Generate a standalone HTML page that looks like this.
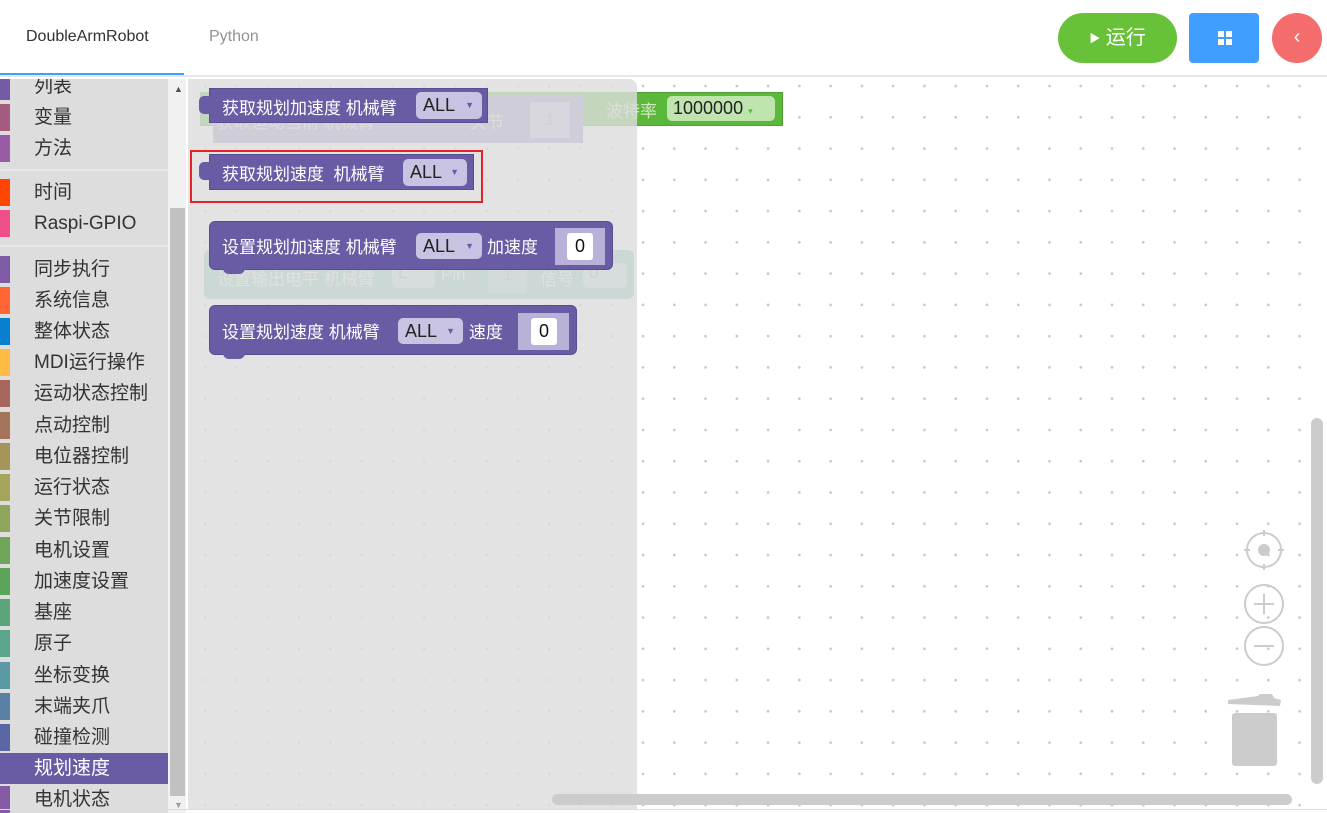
<!DOCTYPE html>
<html><head><meta charset="utf-8"><style>
*{margin:0;padding:0;box-sizing:border-box}
body{width:1327px;height:813px;overflow:hidden;background:#fff;font-family:"Liberation Sans","Noto Sans CJK SC",sans-serif;position:relative}
.a{position:absolute}
.hdr{left:0;top:0;width:1327px;height:77px;background:#fff;border-bottom:2px solid #e4e7ed}
.ws{left:188px;top:79px;width:1139px;height:731px;background-color:#fff;background-image:radial-gradient(circle,#c8c8c8 1.1px,transparent 1.6px);background-size:31.28px 31.28px;background-position:-29.6px -8.6px}
.side{left:0;top:79px;width:168px;height:734px;background:#ddd;overflow:hidden}
.it{position:absolute;left:0;width:168px;height:31px;font-size:19px;color:#333;line-height:31px}
.it i{position:absolute;left:0;top:2px;width:10px;height:27px}
.it span{position:absolute;left:34px}
.sep{position:absolute;left:0;width:168px;height:2px;background:#e8e8e8}
.blk{position:absolute;background:#6a5ba5;color:#fff;font-size:17px;border:1px solid #5a4d92}
.t{position:absolute;white-space:nowrap}
.dd{position:absolute;background:#c8c3e2;border-radius:5px;color:#222;font-size:18px;line-height:27px;padding-left:7px}
.dd b{position:absolute;right:8px;top:0;font-size:9px;color:#6a5ba5;font-weight:normal}
.sock{position:absolute;background:#b8b2d8}
.wb{position:absolute;background:#fff;border-radius:3px;color:#111;font-size:18px;text-align:center;line-height:26px}
</style></head><body>
<div class="a hdr"></div>
<div class="a" style="left:26px;top:28px;font-size:16px;color:#303133">DoubleArmRobot</div>
<div class="a" style="left:209px;top:28px;font-size:16px;color:#909399">Python</div>
<div class="a" style="left:0;top:73px;width:184px;height:2px;background:#409eff"></div>
<div class="a" style="left:1058px;top:13px;width:119px;height:50px;border-radius:25px;background:#67c23a;color:#fff;font-size:20px;line-height:50px;text-align:center"><span style="font-size:11px;vertical-align:2px">▶</span> 运行</div>
<div class="a" style="left:1189px;top:13px;width:70px;height:50px;border-radius:4px;background:#409eff"></div>
<div class="a" style="left:1218px;top:31px;width:6px;height:6px;background:#fff;box-shadow:8px 0 #fff,0 8px #fff,8px 8px #fff"></div>
<div class="a" style="left:1272px;top:13px;width:50px;height:50px;border-radius:25px;background:#f56c6c;color:#fff;font-size:20px;line-height:48px;text-align:center">‹</div>

<div class="a ws"></div>
<!-- workspace blocks -->
<div class="a" style="left:200px;top:92px;width:583px;height:34px;background:#5cb83a;border:1px solid #4ea030"></div>
<div class="a" style="left:606px;top:97px;font-size:17px;color:#cfe9c2">波特率</div>
<div class="a" style="left:667px;top:96px;width:108px;height:25px;background:#bfe4ae;border-radius:5px;font-size:18px;color:#222;line-height:25px;padding-left:6px">1000000 <span style="font-size:9px;color:#5cb83a">▾</span></div>
<div class="a" style="left:213px;top:95px;width:370px;height:48px;background:#9187c0"></div>
<div class="a" style="left:217px;top:108px;font-size:17px;color:#ddd">获取运动当前 机械臂</div>
<div class="a" style="left:470px;top:108px;font-size:17px;color:#ddd">关节</div>
<div class="a" style="left:530px;top:102px;width:40px;height:36px;background:#c0bbdb;color:#999;text-align:center;line-height:36px;font-size:17px">1</div>
<div class="a" style="left:204px;top:250px;width:430px;height:49px;background:#7fbfb5;border-radius:6px"></div>
<div class="a" style="left:217px;top:265px;font-size:17px;color:#eee">设置输出电平 机械臂</div>
<div class="a" style="left:392px;top:263px;width:43px;height:25px;background:#b5dcd5;border-radius:5px;color:#888;padding-left:6px;font-size:17px">L</div>
<div class="a" style="left:441px;top:265px;font-size:17px;color:#eee">Pin</div>
<div class="a" style="left:488px;top:256px;width:39px;height:37px;background:#a8d3cc;color:#999;text-align:center;line-height:37px;font-size:17px">1</div>
<div class="a" style="left:540px;top:265px;font-size:17px;color:#eee">信号</div>
<div class="a" style="left:583px;top:263px;width:44px;height:25px;background:#b5dcd5;border-radius:5px;color:#888;padding-left:6px;font-size:17px">0</div>

<div class="a" style="left:188px;top:79px;width:449px;height:731px;background:rgba(221,221,221,0.82);border-top-right-radius:8px"></div>

<!-- flyout blocks -->
<div class="blk" style="left:209px;top:88px;width:279px;height:35px">
<div class="t" style="left:12px;top:5px">获取规划加速度 机械臂</div>
<div class="dd" style="left:206px;top:3px;width:66px;height:27px">ALL<b>▼</b></div></div>
<div class="a" style="left:199px;top:96px;width:12px;height:18px;background:#6a5ba5;border-radius:5px 0 0 5px"></div>

<div class="a" style="left:190px;top:150px;width:293px;height:53px;border:2px solid #e0242a"></div>
<div class="blk" style="left:209px;top:154px;width:265px;height:36px">
<div class="t" style="left:12px;top:5px">获取规划速度&nbsp; 机械臂</div>
<div class="dd" style="left:193px;top:4px;width:64px;height:27px">ALL<b>▼</b></div></div>
<div class="a" style="left:199px;top:162px;width:12px;height:18px;background:#6a5ba5;border-radius:5px 0 0 5px"></div>

<div class="blk" style="left:209px;top:221px;width:404px;height:49px;border-radius:6px">
<div class="t" style="left:12px;top:11px">设置规划加速度 机械臂</div>
<div class="dd" style="left:206px;top:11px;width:66px;height:26px">ALL<b>▼</b></div>
<div class="t" style="left:277px;top:11px">加速度</div>
<div class="sock" style="left:345px;top:6px;width:50px;height:37px"></div>
<div class="wb" style="left:357px;top:11px;width:26px;height:27px">0</div></div>
<div class="a" style="left:223px;top:266px;width:22px;height:8px;background:#6a5ba5;border-radius:0 0 6px 6px"></div>

<div class="blk" style="left:209px;top:305px;width:368px;height:50px;border-radius:6px">
<div class="t" style="left:12px;top:12px">设置规划速度 机械臂</div>
<div class="dd" style="left:188px;top:12px;width:65px;height:26px">ALL<b>▼</b></div>
<div class="t" style="left:259px;top:12px">速度</div>
<div class="sock" style="left:308px;top:7px;width:51px;height:37px"></div>
<div class="wb" style="left:321px;top:12px;width:26px;height:27px">0</div></div>
<div class="a" style="left:223px;top:351px;width:22px;height:8px;background:#6a5ba5;border-radius:0 0 6px 6px"></div>

<!-- sidebar -->
<div class="a side">
<div class="it" style="top:-8px"><i style="background:#745ba5"></i><span>列表</span></div>
<div class="it" style="top:23px"><i style="background:#a55b80"></i><span>变量</span></div>
<div class="it" style="top:54px"><i style="background:#995ba5"></i><span>方法</span></div>
<div class="sep" style="top:90px"></div>
<div class="it" style="top:98px"><i style="background:#ff4500"></i><span>时间</span></div>
<div class="it" style="top:129px"><i style="background:#f0508a"></i><span>Raspi-GPIO</span></div>
<div class="sep" style="top:166px"></div>
<div class="it" style="top:175px"><i style="background:#7f5ba5"></i><span>同步执行</span></div>
<div class="it" style="top:206px"><i style="background:#ff6633"></i><span>系统信息</span></div>
<div class="it" style="top:237px"><i style="background:#0a7fd0"></i><span>整体状态</span></div>
<div class="it" style="top:268px"><i style="background:#ffbb44"></i><span>MDI运行操作</span></div>
<div class="it" style="top:299px"><i style="background:#a5675b"></i><span>运动状态控制</span></div>
<div class="it" style="top:331px"><i style="background:#a5745b"></i><span>点动控制</span></div>
<div class="it" style="top:362px"><i style="background:#a5955b"></i><span>电位器控制</span></div>
<div class="it" style="top:393px"><i style="background:#a5a55b"></i><span>运行状态</span></div>
<div class="it" style="top:424px"><i style="background:#8fa55b"></i><span>关节限制</span></div>
<div class="it" style="top:456px"><i style="background:#6fa55b"></i><span>电机设置</span></div>
<div class="it" style="top:487px"><i style="background:#5ba55b"></i><span>加速度设置</span></div>
<div class="it" style="top:518px"><i style="background:#5ba57a"></i><span>基座</span></div>
<div class="it" style="top:549px"><i style="background:#5ba58c"></i><span>原子</span></div>
<div class="it" style="top:581px"><i style="background:#5b9aa5"></i><span>坐标变换</span></div>
<div class="it" style="top:612px"><i style="background:#5b80a5"></i><span>末端夹爪</span></div>
<div class="it" style="top:643px"><i style="background:#5b67a5"></i><span>碰撞检测</span></div>
<div class="it" style="top:674px;background:#6a5ba5;color:#fff"><i style="background:#6a5ba5"></i><span>规划速度</span></div>
<div class="it" style="top:705px"><i style="background:#855ba5"></i><span>电机状态</span></div>
</div>
<div class="a" style="left:168px;top:79px;width:18px;height:734px;background:#f1f1f1"></div>
<div class="a" style="left:170px;top:208px;width:15px;height:588px;background:#c1c1c1"></div>
<div class="a" style="left:174px;top:84px;font-size:9px;color:#505050">▲</div>
<div class="a" style="left:174px;top:800px;font-size:9px;color:#a0a0a0">▼</div>

<!-- controls -->
<div class="a" style="left:1311px;top:418px;width:12px;height:366px;border-radius:6px;background:#ccc"></div>
<div class="a" style="left:552px;top:794px;width:740px;height:11px;border-radius:6px;background:#ccc"></div>
<div class="a" style="left:0;top:809px;width:1327px;height:1px;background:#ddd"></div>
<svg class="a" style="left:1220px;top:520px" width="100" height="260">
<g fill="none" stroke="#ccc" stroke-width="2">
<circle cx="44" cy="30" r="17"/><line x1="44" y1="10" x2="44" y2="16"/><line x1="44" y1="44" x2="44" y2="50"/><line x1="24" y1="30" x2="30" y2="30"/><line x1="58" y1="30" x2="64" y2="30"/>
<circle cx="44" cy="84" r="19"/><line x1="34" y1="84" x2="54" y2="84"/><line x1="44" y1="74" x2="44" y2="94"/>
<circle cx="44" cy="126" r="19"/><line x1="34" y1="126" x2="54" y2="126"/></g>
<circle cx="44" cy="30" r="6" fill="#ccc"/>
<polygon points="8,180 38,176 40,174 52,174 54,178 61,180 60,186 8,184" fill="#ccc"/>
<rect x="12" y="193" width="45" height="53" rx="3" fill="#ccc"/>
</svg>
</body></html>
